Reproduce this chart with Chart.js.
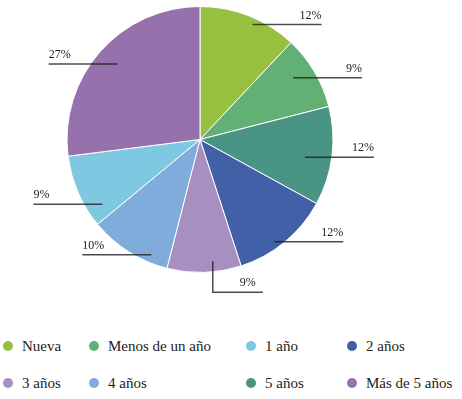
<!DOCTYPE html>
<html>
<head>
<meta charset="utf-8">
<script src="https://cdn.jsdelivr.net/npm/chart.js@4"></script>
<style>
  body { margin: 0; background: #fff; font-family: "Liberation Serif", "Times New Roman", "DejaVu Serif", serif; }
  #wrap { position: relative; width: 462px; height: 399px; }
  #pie { position: absolute; left: 0; top: 0; }
  #legend {
    position: absolute; left: 3px; top: 336px;
    display: grid; grid-template-columns: 86px 157px 101px 110px;
    row-gap: 17px; font-size: 15px; color: #222;
  }
  .item { display: flex; align-items: center; height: 20px; white-space: nowrap; }
  .dot { width: 10px; height: 10px; border-radius: 50%; margin-right: 9px; }
</style>
</head>
<body>
<div id="wrap">
  <canvas id="pie" width="462" height="320"></canvas>
  <div id="legend"></div>
</div>
<script>
// slices, clockwise from 12 o'clock
const labels = ["Nueva", "Menos de un año", "5 años", "2 años", "3 años", "4 años", "1 año", "Más de 5 años"];
const values = [12, 9, 12, 12, 9, 10, 9, 27];
const colors = ["#97bf40", "#63b076", "#4a9485", "#4260a8", "#a78fc1", "#80acdb", "#7fc8e2", "#9771ac"];
const legendOrder = ["Nueva", "Menos de un año", "1 año", "2 años", "3 años", "4 años", "5 años", "Más de 5 años"];

// leader lines: angle shift from mid-slice (deg), radius fraction, side
const leaders = [
  { shift: 3, r: 0.95, side: 1 },
  { shift: -3, r: 0.84, side: 1 },
  { shift: 2.4, r: 0.80, side: 1 },
  { shift: 3.6, r: 0.95, side: 1 },
  { shift: -4.2, r: 0.92, side: 0 },
  { shift: -9.5, r: 0.94, side: -1 },
  { shift: -10.2, r: 0.88, side: -1 },
  { shift: 1.1, r: 0.84, side: -1 }
];

const serif = "'Liberation Serif', 'Times New Roman', 'DejaVu Serif', serif";

const leaderPlugin = {
  id: "leaders",
  afterDatasetsDraw(chart) {
    const ctx = chart.ctx;
    const arcs = chart.getDatasetMeta(0).data;
    ctx.save();
    ctx.font = "12px " + serif;
    ctx.fillStyle = "#222";
    ctx.strokeStyle = "rgba(30,30,30,0.8)";
    ctx.lineWidth = 1.5;
    arcs.forEach((arc, i) => {
      const L = leaders[i];
      const mid = (arc.startAngle + arc.endAngle) / 2 + L.shift * Math.PI / 180;
      const x0 = arc.x + Math.cos(mid) * arc.outerRadius * L.r;
      const y0 = arc.y + Math.sin(mid) * arc.outerRadius * L.r;
      const text = values[i] + "%";
      ctx.beginPath();
      if (L.side === 0) {
        const yb = y0 + 31;
        ctx.moveTo(x0, y0);
        ctx.lineTo(x0, yb);
        ctx.lineTo(x0 + 50, yb);
        ctx.stroke();
        ctx.textAlign = "right";
        ctx.fillText(text, x0 + 43, yb - 6);
      } else {
        const x1 = x0 + L.side * 69;
        ctx.moveTo(x0, y0);
        ctx.lineTo(x1, y0);
        ctx.stroke();
        ctx.textAlign = L.side > 0 ? "right" : "left";
        ctx.fillText(text, x1, y0 - 6);
      }
    });
    ctx.restore();
  }
};

new Chart(document.getElementById("pie"), {
  type: "pie",
  data: {
    labels: labels,
    datasets: [{
      data: values,
      backgroundColor: colors,
      borderColor: "#fff",
      borderWidth: 1,
      hoverOffset: 0
    }]
  },
  options: {
    responsive: false,
    animation: false,
    layout: { padding: { top: 6, bottom: 47, left: 0, right: 62 } },
    plugins: {
      legend: { display: false },
      tooltip: { enabled: false }
    }
  },
  plugins: [leaderPlugin]
});

const legend = document.getElementById("legend");
legendOrder.forEach(name => {
  const item = document.createElement("div");
  item.className = "item";
  const dot = document.createElement("span");
  dot.className = "dot";
  dot.style.background = colors[labels.indexOf(name)];
  const txt = document.createElement("span");
  txt.textContent = name;
  item.appendChild(dot);
  item.appendChild(txt);
  legend.appendChild(item);
});
</script>
</body>
</html>
